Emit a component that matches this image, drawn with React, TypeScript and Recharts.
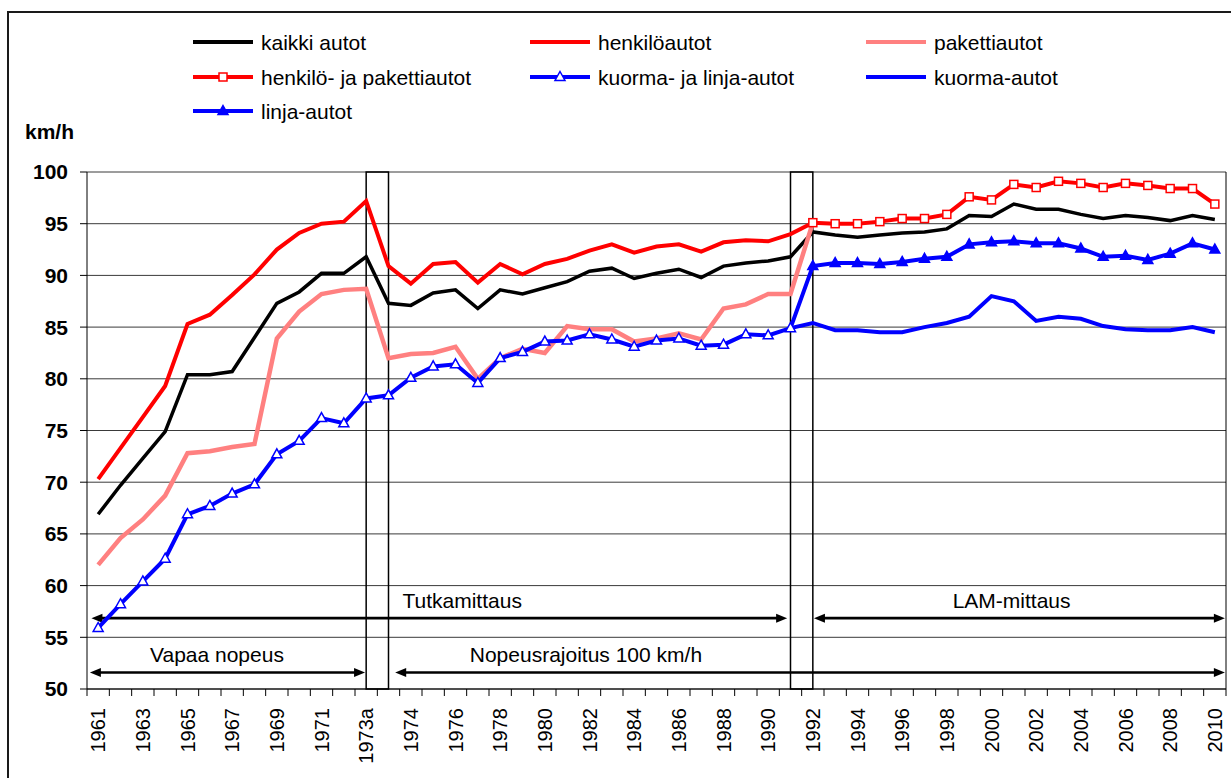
import React from 'react';
import {
  LineChart,
  Line,
  XAxis,
  YAxis,
  CartesianGrid,
  ReferenceArea,
  ReferenceLine,
  ReferenceDot,
} from 'recharts';

// ---------- DATA ----------
const categories = [
  '1961', '1962', '1963', '1964', '1965', '1966', '1967', '1968', '1969', '1970',
  '1971', '1972', '1973a', '1973b', '1974', '1975', '1976', '1977', '1978', '1979',
  '1980', '1981', '1982', '1983', '1984', '1985', '1986', '1987', '1988', '1989',
  '1990', '1991', '1992', '1993', '1994', '1995', '1996', '1997', '1998', '1999',
  '2000', '2001', '2002', '2003', '2004', '2005', '2006', '2007', '2008', '2009',
  '2010',
];

const yTicks = [50, 55, 60, 65, 70, 75, 80, 85, 90, 95, 100];

// kaikki autot (from 1961)
const kaikkiAutotStart = 0;
const kaikkiAutot = [
  66.9, 69.7, 72.3, 74.9, 80.4, 80.4, 80.7, 84.0, 87.3, 88.4,
  90.2, 90.2, 91.8, 87.3, 87.1, 88.3, 88.6, 86.8, 88.6, 88.2,
  88.8, 89.4, 90.4, 90.7, 89.7, 90.2, 90.6, 89.8, 90.9, 91.2,
  91.4, 91.8, 94.2, 93.9, 93.7, 93.9, 94.1, 94.2, 94.5, 95.8,
  95.7, 96.9, 96.4, 96.4, 95.9, 95.5, 95.8, 95.6, 95.3, 95.8,
  95.4,
];

// henkilöautot (1961 - 1992)
const henkiloautotStart = 0;
const henkiloautot = [
  70.3, 73.3, 76.3, 79.3, 85.3, 86.2, 88.1, 90.1, 92.5, 94.1,
  95.0, 95.2, 97.2, 90.9, 89.2, 91.1, 91.3, 89.3, 91.1, 90.1,
  91.1, 91.6, 92.4, 93.0, 92.2, 92.8, 93.0, 92.3, 93.2, 93.4,
  93.3, 94.0, 95.1,
];

// pakettiautot (1961 - 1992)
const pakettiautotStart = 0;
const pakettiautot = [
  62.0, 64.6, 66.4, 68.7, 72.8, 73.0, 73.4, 73.7, 83.9, 86.5,
  88.2, 88.6, 88.7, 82.0, 82.4, 82.5, 83.1, 80.0, 82.0, 82.9,
  82.5, 85.1, 84.8, 84.8, 83.6, 83.9, 84.4, 83.8, 86.8, 87.2,
  88.2, 88.2, 95.1,
];

// henkilö- ja pakettiautot (1992 - 2010)
const henkiloPakettiStart = 32;
const henkiloPaketti = [
  95.1, 95.0, 95.0, 95.2, 95.5, 95.5, 95.9, 97.6, 97.3, 98.8,
  98.5, 99.1, 98.9, 98.5, 98.9, 98.7, 98.4, 98.4, 96.9,
];

// kuorma- ja linja-autot (1961 - 1991)
const kuormaLinjaStart = 0;
const kuormaLinja = [
  55.9, 58.2, 60.4, 62.6, 66.9, 67.7, 68.9, 69.8, 72.7, 74.0,
  76.2, 75.7, 78.1, 78.4, 80.1, 81.2, 81.4, 79.6, 82.0, 82.6,
  83.6, 83.7, 84.3, 83.8, 83.1, 83.7, 83.9, 83.2, 83.3, 84.3,
  84.2, 84.9,
];

// kuorma-autot (1991 - 2010)
const kuormaautotStart = 31;
const kuormaautot = [
  84.9, 85.4, 84.7, 84.7, 84.5, 84.5, 85.0, 85.4, 86.0, 88.0,
  87.5, 85.6, 86.0, 85.8, 85.1, 84.8, 84.7, 84.7, 85.0, 84.5,
];

// linja-autot (1991 - 2010)
const linjaautotStart = 31;
const linjaautot = [
  84.9, 90.9, 91.2, 91.2, 91.1, 91.3, 91.6, 91.8, 93.0, 93.2,
  93.3, 93.1, 93.1, 92.6, 91.8, 91.9, 91.5, 92.1, 93.1, 92.5,
];

// measurement-period boxes (category index ranges)
const periodBoxes = [
  { from: 12, to: 13 },
  { from: 31, to: 32 },
];

// annotation arrows (in category-index / km/h units)
const arrowSegments = [
  { from: -0.3, to: 30.85, y: 56.85 },
  { from: 32.05, to: 50.45, y: 56.85 },
  { from: -0.37, to: 11.95, y: 51.6 },
  { from: 13.3, to: 50.45, y: 51.6 },
];

const annotationTexts = [
  { text: 'Tutkamittaus', x: 16.3, y: 58.6 },
  { text: 'LAM-mittaus', x: 40.9, y: 58.55 },
  { text: 'Vapaa nopeus', x: 5.32, y: 53.3 },
  { text: 'Nopeusrajoitus 100 km/h', x: 21.84, y: 53.3 },
];

// ---------- BUILD TABLE ----------
const pick = (start: number, values: number[], i: number) =>
  i >= start && i < start + values.length ? values[i - start] : null;

const rows = categories.map((c, i) => ({
  idx: i,
  name: c,
  kaikki: pick(kaikkiAutotStart, kaikkiAutot, i),
  henkilo: pick(henkiloautotStart, henkiloautot, i),
  paketti: pick(pakettiautotStart, pakettiautot, i),
  henkiloPaketti: pick(henkiloPakettiStart, henkiloPaketti, i),
  kuormaLinja: pick(kuormaLinjaStart, kuormaLinja, i),
  kuorma: pick(kuormaautotStart, kuormaautot, i),
  linja: pick(linjaautotStart, linjaautot, i),
}));

const xTicks: number[] = [];
categories.forEach((_, i) => {
  xTicks.push(i - 0.5);
  xTicks.push(i);
});
xTicks.push(categories.length - 0.5);

const BLACK = '#000000';
const RED = '#FF0000';
const PINK = '#FF8080';
const BLUE = '#0000FF';
const FONT = '"Liberation Sans", Arial, Helvetica, sans-serif';

// ---------- RENDER HELPERS ----------
const renderXTick = (props: any) => {
  const { x, y, payload } = props;
  const v = payload.value;
  if (!Number.isInteger(v)) {
    return <line x1={x} y1={y} x2={x} y2={y + 7} stroke={BLACK} strokeWidth={1} />;
  }
  if (v % 2 !== 0) return <g />;
  const ty = y + 19;
  return (
    <text
      x={x}
      y={ty}
      transform={`rotate(-90, ${x}, ${ty})`}
      textAnchor="end"
      dy="0.35em"
      fontSize={20}
      fontFamily={FONT}
      fill={BLACK}
    >
      {categories[v]}
    </text>
  );
};

const squareDot = (p: any) => {
  const { cx, cy, index } = p;
  if (cx == null || cy == null || p.value == null) return <g key={`sq-${index}`} />;
  return (
    <rect
      key={`sq-${index}`}
      x={cx - 4}
      y={cy - 4}
      width={8}
      height={8}
      fill="#FFFFFF"
      stroke={RED}
      strokeWidth={1.5}
    />
  );
};

const triPoints = (cx: number, cy: number) =>
  `${cx},${cy - 5.5} ${cx + 5},${cy + 3.5} ${cx - 5},${cy + 3.5}`;

const openTriDot = (p: any) => {
  const { cx, cy, index } = p;
  if (cx == null || cy == null || p.value == null) return <g key={`ot-${index}`} />;
  return (
    <polygon
      key={`ot-${index}`}
      points={triPoints(cx, cy)}
      fill="#FFFFFF"
      stroke={BLUE}
      strokeWidth={1.5}
    />
  );
};

const filledTriDot = (p: any) => {
  const { cx, cy, index } = p;
  if (cx == null || cy == null || p.value == null || index === linjaautotStart)
    return <g key={`ft-${index}`} />;
  return (
    <polygon
      key={`ft-${index}`}
      points={triPoints(cx, cy)}
      fill={BLUE}
      stroke={BLUE}
      strokeWidth={1.5}
    />
  );
};

const arrowShape = (p: any) => {
  const { x1, y1, x2, y2 } = p;
  const dir = x2 >= x1 ? 1 : -1;
  const L = 11;
  const W = 4.5;
  return (
    <g>
      <line
        x1={x1 + dir * L * 0.8}
        y1={y1}
        x2={x2 - dir * L * 0.8}
        y2={y2}
        stroke={BLACK}
        strokeWidth={2.6}
      />
      <polygon points={`${x1},${y1} ${x1 + dir * L},${y1 - W} ${x1 + dir * L},${y1 + W}`} fill={BLACK} />
      <polygon points={`${x2},${y2} ${x2 - dir * L},${y2 - W} ${x2 - dir * L},${y2 + W}`} fill={BLACK} />
    </g>
  );
};

// ---------- LEGEND ----------
const legendItems = [
  { label: 'kaikki autot', color: BLACK, marker: 'none', col: 0, row: 0 },
  { label: 'henkilöautot', color: RED, marker: 'none', col: 1, row: 0 },
  { label: 'pakettiautot', color: PINK, marker: 'none', col: 2, row: 0 },
  { label: 'henkilö- ja pakettiautot', color: RED, marker: 'square', col: 0, row: 1 },
  { label: 'kuorma- ja linja-autot', color: BLUE, marker: 'openTri', col: 1, row: 1 },
  { label: 'kuorma-autot', color: BLUE, marker: 'none', col: 2, row: 1 },
  { label: 'linja-autot', color: BLUE, marker: 'filledTri', col: 0, row: 2 },
];
const legendColX = [193, 530, 866];
const legendRowY = [42, 77, 111];

const LegendOverlay = () => (
  <svg
    width={1231}
    height={150}
    style={{ position: 'absolute', left: 0, top: 0, pointerEvents: 'none' }}
  >
    {legendItems.map((it) => {
      const x = legendColX[it.col];
      const y = legendRowY[it.row];
      const mid = x + 30;
      return (
        <g key={it.label}>
          <line x1={x} y1={y} x2={x + 60} y2={y} stroke={it.color} strokeWidth={4} />
          {it.marker === 'square' && (
            <rect x={mid - 4} y={y - 4} width={8} height={8} fill="#fff" stroke={RED} strokeWidth={1.5} />
          )}
          {it.marker === 'openTri' && (
            <polygon points={triPoints(mid, y)} fill="#fff" stroke={BLUE} strokeWidth={1.5} />
          )}
          {it.marker === 'filledTri' && (
            <polygon points={triPoints(mid, y)} fill={BLUE} stroke={BLUE} strokeWidth={1.5} />
          )}
          <text
            x={x + 68}
            y={y}
            dominantBaseline="central"
            fontSize={21}
            fontFamily={FONT}
            fill={BLACK}
          >
            {it.label}
          </text>
        </g>
      );
    })}
    <text x={25} y={131} dominantBaseline="central" fontSize={21} fontWeight={700} fontFamily={FONT} fill={BLACK}>
      km/h
    </text>
  </svg>
);

// ---------- APP ----------
export default function App() {
  return (
    <div
      style={{
        position: 'absolute',
        left: 0,
        top: 0,
        width: 1231,
        height: 778,
        overflow: 'hidden',
        background: '#FFFFFF',
        fontFamily: FONT,
      }}
    >
      <div
        style={{
          position: 'absolute',
          left: 7,
          top: 11,
          width: 1400,
          height: 900,
          border: '2px solid #1a1a1a',
          boxSizing: 'border-box',
        }}
      />
      <div style={{ position: 'absolute', left: 0, top: 0 }}>
        <LineChart
          width={1231}
          height={778}
          data={rows}
          margin={{ top: 172, right: 5, left: 0, bottom: 0 }}
        >
          <CartesianGrid vertical={false} horizontal stroke="#3a3a3a" strokeWidth={1} />
          <XAxis
            type="number"
            dataKey="idx"
            domain={[-0.5, categories.length - 0.5]}
            ticks={xTicks}
            interval={0}
            tick={renderXTick}
            tickLine={false}
            tickSize={0}
            tickMargin={0}
            axisLine={{ stroke: BLACK, strokeWidth: 1 }}
            height={89}
            allowDecimals
          />
          <YAxis
            type="number"
            domain={[50, 100]}
            ticks={yTicks}
            interval={0}
            width={87}
            tickSize={7}
            tickMargin={12}
            tickLine={{ stroke: BLACK }}
            axisLine={{ stroke: BLACK, strokeWidth: 1 }}
            tick={{ fill: BLACK, fontSize: 21, fontWeight: 700, fontFamily: FONT }}
          />
          <ReferenceLine x={categories.length - 0.5} stroke={BLACK} strokeWidth={1} />

          {periodBoxes.map((b) => (
            <ReferenceArea
              key={`box-${b.from}`}
              x1={b.from}
              x2={b.to}
              y1={50}
              y2={100}
              fill="none"
              fillOpacity={0}
              stroke={BLACK}
              strokeWidth={1.5}
            />
          ))}

          {arrowSegments.map((a, i) => (
            <ReferenceLine
              key={`arrow-${i}`}
              segment={[
                { x: a.from, y: a.y },
                { x: a.to, y: a.y },
              ]}
              stroke={BLACK}
              shape={arrowShape}
            />
          ))}

          {annotationTexts.map((t) => (
            <ReferenceDot
              key={t.text}
              x={t.x}
              y={t.y}
              r={1}
              shape={(p: any) => (
                <text
                  x={p.cx}
                  y={p.cy}
                  textAnchor="middle"
                  dominantBaseline="central"
                  fontSize={21}
                  fontFamily={FONT}
                  fill={BLACK}
                >
                  {t.text}
                </text>
              )}
            />
          ))}

          <Line type="linear" dataKey="kaikki" stroke={BLACK} strokeWidth={3.5} dot={false} isAnimationActive={false} />
          <Line type="linear" dataKey="henkilo" stroke={RED} strokeWidth={4} dot={false} isAnimationActive={false} />
          <Line type="linear" dataKey="paketti" stroke={PINK} strokeWidth={4.5} dot={false} isAnimationActive={false} />
          <Line type="linear" dataKey="henkiloPaketti" stroke={RED} strokeWidth={4} dot={squareDot} isAnimationActive={false} />
          <Line type="linear" dataKey="kuormaLinja" stroke={BLUE} strokeWidth={4} dot={openTriDot} isAnimationActive={false} />
          <Line type="linear" dataKey="kuorma" stroke={BLUE} strokeWidth={4} dot={false} isAnimationActive={false} />
          <Line type="linear" dataKey="linja" stroke={BLUE} strokeWidth={4} dot={filledTriDot} isAnimationActive={false} />
        </LineChart>
      </div>
      <LegendOverlay />
    </div>
  );
}
